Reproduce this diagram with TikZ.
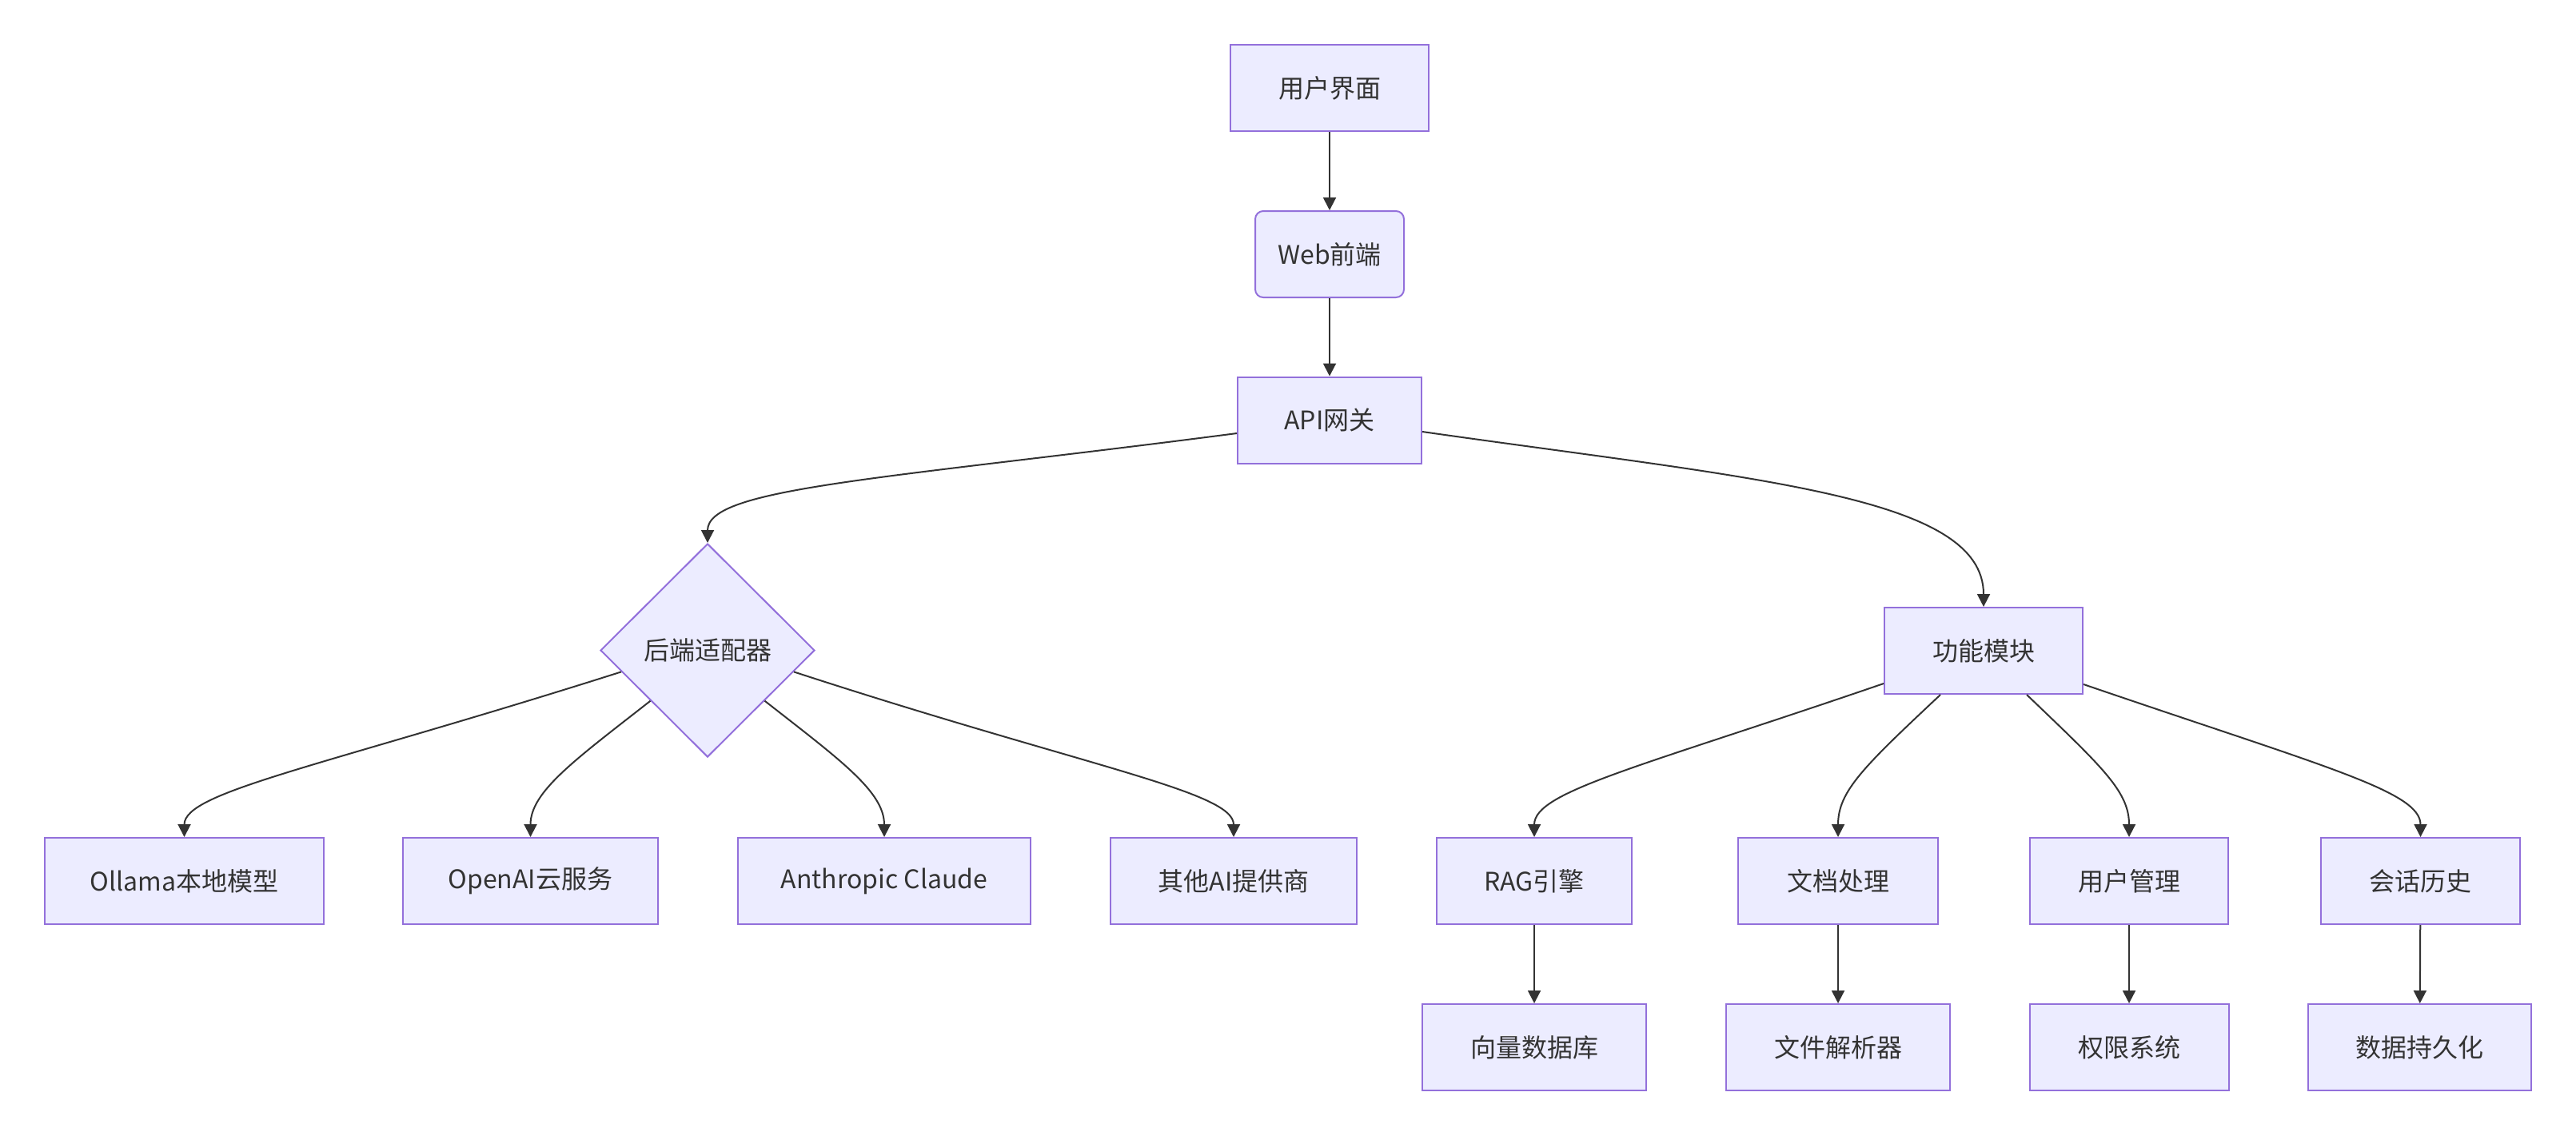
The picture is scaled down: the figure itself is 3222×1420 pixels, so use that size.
\documentclass[tikz,border=0pt]{standalone}
\usepackage{fontspec}
\setmainfont{Noto Sans CJK SC}
\usetikzlibrary{shapes.geometric,arrows.meta,calc}
\definecolor{nodefill}{HTML}{ECECFF}
\definecolor{nodeline}{HTML}{9370DB}
\definecolor{ink}{HTML}{333333}
\begin{document}
\begin{tikzpicture}[x=0.5pt,y=-0.5pt,
  box/.style={draw=nodeline,fill=nodefill,line width=1pt,minimum height=54pt,inner sep=0pt,text=ink,font=\fontsize{16pt}{19pt}\selectfont},
  decide/.style={diamond,draw=nodeline,fill=nodefill,line width=1pt,minimum width=134pt,minimum height=133.5pt,inner sep=0pt,aspect=1,text=ink,font=\fontsize{16pt}{19pt}\selectfont},
  conn/.style={draw=ink,line width=1pt,-{Triangle[length=8pt,width=8pt]}}]
\useasboundingbox (0,0) rectangle (3222,1420);
% nodes
\node[box,minimum width=124pt] (ui) at (1663,110) {用户界面};
\node[box,minimum width=93pt,rounded corners=5pt] (web) at (1663,318) {Web前端};
\node[box,minimum width=115pt] (api) at (1663,525.5) {API网关};
\node[decide] (adp) at (885,813.5) {后端适配器};
\node[box,minimum width=124pt] (fun) at (2481,814) {功能模块};
\node[box,minimum width=174.5pt] (oll) at (230.5,1102) {Ollama本地模型};
\node[box,minimum width=159.5pt] (oai) at (663.5,1102) {OpenAI云服务};
\node[box,minimum width=183pt] (ant) at (1106,1102) {Anthropic Claude};
\node[box,minimum width=154pt] (oth) at (1543,1102) {其他AI提供商};
\node[box,minimum width=122pt] (rag) at (1919,1102) {RAG引擎};
\node[box,minimum width=125pt] (doc) at (2299,1102) {文档处理};
\node[box,minimum width=124pt] (usr) at (2663,1102) {用户管理};
\node[box,minimum width=124.5pt] (ses) at (3027.5,1102) {会话历史};
\node[box,minimum width=140pt] (vec) at (1919,1310) {向量数据库};
\node[box,minimum width=140pt] (par) at (2299,1310) {文件解析器};
\node[box,minimum width=124.5pt] (prm) at (2663,1310) {权限系统};
\node[box,minimum width=139.5pt] (per) at (3026.5,1310) {数据持久化};
% straight connectors
\draw[conn] (ui) -- (web);
\draw[conn] (web) -- (api);
\draw[conn] (rag) -- (vec);
\draw[conn] (doc) -- (par);
\draw[conn] (usr) -- (prm);
\draw[conn] (ses) -- (per);
% curved connectors
\draw[conn] (api.west |- 0,542) .. controls (1100,600) and (885,610) .. (adp.north);
\draw[conn] (api.east |- 0,540) .. controls (2200,600) and (2481,620) .. (fun.north);
\draw[conn] ($(adp.west)!0.2!(adp.south)$) .. controls (400,960) and (230.5,990) .. (oll.north);
\draw[conn] ($(adp.west)!0.47!(adp.south)$) .. controls (720,950) and (663.5,990) .. (oai.north);
\draw[conn] ($(adp.east)!0.47!(adp.south)$) .. controls (1050,950) and (1106,990) .. (ant.north);
\draw[conn] ($(adp.east)!0.2!(adp.south)$) .. controls (1360,960) and (1543,990) .. (oth.north);
\draw[conn] (fun.west |- 0,855) .. controls (2050,960) and (1919,990) .. (rag.north);
\draw[conn] (fun.south -| 2427,0) .. controls (2330,960) and (2299,990) .. (doc.north);
\draw[conn] (fun.south -| 2535,0) .. controls (2630,960) and (2663,990) .. (usr.north);
\draw[conn] (fun.east |- 0,856) .. controls (2910,960) and (3027.5,990) .. (ses.north);
\end{tikzpicture}
\end{document}
